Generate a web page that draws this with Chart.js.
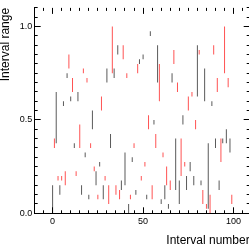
<!DOCTYPE html>
<html>
<head>
<meta charset="utf-8">
<script src="https://cdn.jsdelivr.net/npm/chart.js@4.4.0/dist/chart.umd.min.js"></script>
<style>
    html, body { margin: 0; padding: 0; overflow: hidden; background: #fff; }
    #grafico { display: block; }
</style>
</head>
<body>
<canvas id="grafico" width="250" height="248"></canvas>
<script>
    // numero de cada intervalo (eixo x)
    const intervalos = [
        0, 1, 2, 3, 4, 5, 6, 7, 8, 9,
        10, 11, 12, 13, 14, 15, 16, 17, 18, 19,
        20, 21, 22, 23, 24, 25, 26, 27, 28, 29,
        30, 31, 32, 33, 34, 35, 36, 37, 38, 39,
        40, 41, 42, 43, 44, 45, 46, 47, 48, 49,
        50, 51, 52, 53, 54, 55, 56, 57, 58, 59,
        60, 61, 62, 63, 64, 65, 66, 67, 68, 69,
        70, 71, 72, 73, 74, 75, 76, 77, 78, 79,
        80, 81, 82, 83, 84, 85, 86, 87, 88, 89,
        90, 91, 92, 93, 94, 95, 96, 97, 98, 99
    ];

    // inicio e fim de cada intervalo (eixo y)
    const limiteInferior = [
        0, 0.35, 0.375, 0.175, 0.1, 0.175, 0.575, 0.15, 0.725, 0.775,
        0.6, 0.65, 0.35, 0.2, 0.6, 0.35, 0.1, 0.75, 0.3, 0.7,
        0.075, 0.35, 0.45, 0.225, 0.15, 0.075, 0.25, 0.55, 0.075, 0.175,
        0.7, 0.05, 0.35, 0.75, 0.725, 0.1, 0.85, 0.075, 0.125, 0.825,
        0.15, 0.725, 0, 0.075, 0.275, 0.35, 0.1, 0.75, 0.8, 0.175,
        0.825, 0.25, 0.075, 0.45, 0.95, 0.075, 0.475, 0.35, 0.7, 0.6,
        0.05, 0.3, 0.075, 0.15, 0.025, 0.125, 0.7, 0.8, 0.125, 0.65,
        0.05, 0.2, 0.475, 0.25, 0.125, 0.55, 0.225, 0.625, 0.15, 0.45,
        0.625, 0.85, 0.15, 0.05, 0.6, 0.025, 0.025, 0, 0.575, 0.85,
        0.35, 0.65, 0.125, 0.275, 0.375, 0.75, 0.375, 0.675, 0.325, 0.05
    ];
    const limiteSuperior = [
        0.15, 0.4, 0.65, 0.2, 0.15, 0.2, 0.6, 0.225, 0.75, 0.85,
        0.625, 0.725, 0.375, 0.225, 0.65, 0.475, 0.15, 0.775, 0.325, 0.725,
        0.1, 0.375, 0.55, 0.25, 0.225, 0.1, 0.275, 0.625, 0.15, 0.2,
        0.775, 0.15, 0.425, 1.0, 0.775, 0.15, 0.9, 0.125, 0.175, 0.9,
        0.325, 0.75, 0.05, 0.1, 0.3, 0.375, 0.125, 0.8, 0.825, 0.2,
        0.85, 0.275, 0.1, 0.525, 0.975, 0.15, 0.5, 0.425, 0.9, 0.8,
        0.075, 0.325, 0.15, 0.25, 0.05, 0.175, 0.75, 0.875, 0.4, 0.7,
        0.175, 0.4, 0.525, 0.275, 0.2, 0.625, 0.275, 0.65, 0.2, 0.5,
        0.9, 0.875, 0.175, 0.125, 0.775, 0.05, 0.375, 0.1, 0.6, 0.9,
        0.4, 0.725, 0.175, 0.4, 0.4, 1.0, 0.45, 0.725, 0.4, 0.1
    ];

    const ticksX = [0, 50, 100];
    const ticksY = [0, 0.5, 1.0];

    const corPar = 'rgba(0, 0, 0, 0.65)';
    const corImpar = 'rgba(255, 0, 0, 0.68)';

    Chart.defaults.font.family = '"Liberation Sans", Arial, sans-serif';
    Chart.defaults.color = '#000';

    // marcas pequenas nos quatro lados da moldura (estilo ROOT)
    const marcasEixos = {
        id: 'marcasEixos',
        afterDatasetsDraw(chart) {
            const { ctx, chartArea: a, scales: { x, y } } = chart;
            ctx.save();
            ctx.strokeStyle = '#000';
            ctx.lineWidth = 1;
            ctx.beginPath();
            for (let v = -5; v <= 105; v += 5) {
                const px = Math.round(x.getPixelForValue(v) - 0.5) + 0.5;
                const tam = v % 50 === 0 ? 6 : 3;
                ctx.moveTo(px, a.bottom); ctx.lineTo(px, a.bottom - tam);
                ctx.moveTo(px, a.top); ctx.lineTo(px, a.top + tam);
            }
            for (let k = 0; k <= 22; k++) {
                const py = Math.round(y.getPixelForValue(k * 0.05) - 0.5) + 0.5;
                const tam = k % 10 === 0 ? 6 : 3;
                ctx.moveTo(a.left, py); ctx.lineTo(a.left + tam, py);
                ctx.moveTo(a.right, py); ctx.lineTo(a.right - tam, py);
            }
            ctx.stroke();
            ctx.restore();
        }
    };

    const dados = {
        datasets: [{
            data: intervalos.map((n, i) => ({ x: n, y: [limiteInferior[i], limiteSuperior[i]] })),
            backgroundColor: ctx => (ctx.dataIndex % 2 ? corImpar : corPar),
            borderWidth: 0,
            barThickness: 1,
            inflateAmount: 0
        }]
    };

    const config = {
        type: 'bar',
        data: dados,
        plugins: [marcasEixos],
        options: {
            responsive: false,
            animation: false,
            layout: { padding: { left: 0, top: 0, bottom: 0, right: 0.3 } },
            plugins: { legend: { display: false }, tooltip: { enabled: false } },
            scales: {
                x: {
                    type: 'linear',
                    offset: false,
                    min: -9.9,
                    max: 108.9,
                    afterBuildTicks: scale => { scale.ticks = ticksX.map(v => ({ value: v })); },
                    afterFit: scale => { scale.height = 34.7; },
                    grid: { display: false, drawTicks: false, offset: false },
                    border: { display: true, color: '#000', width: 1 },
                    ticks: { padding: 3, font: { size: 9 }, maxRotation: 0, callback: v => String(v) },
                    title: { display: true, text: 'Interval number', align: 'end', font: { size: 12 }, padding: 0 }
                },
                y: {
                    min: 0,
                    max: 1.1,
                    afterBuildTicks: scale => { scale.ticks = ticksY.map(v => ({ value: v })); },
                    afterFit: scale => { scale.width = 34.68; },
                    grid: { display: false, drawTicks: false },
                    border: { display: true, color: '#000', width: 1 },
                    ticks: { padding: 2.5, font: { size: 9 }, callback: v => Number(v).toFixed(1) },
                    title: { display: true, text: 'Interval range', align: 'end', font: { size: 12, lineHeight: 1 }, padding: 0 }
                }
            }
        }
    };

    let meuGrafico = new Chart(document.getElementById('grafico'), config);
</script>
</body>
</html>
